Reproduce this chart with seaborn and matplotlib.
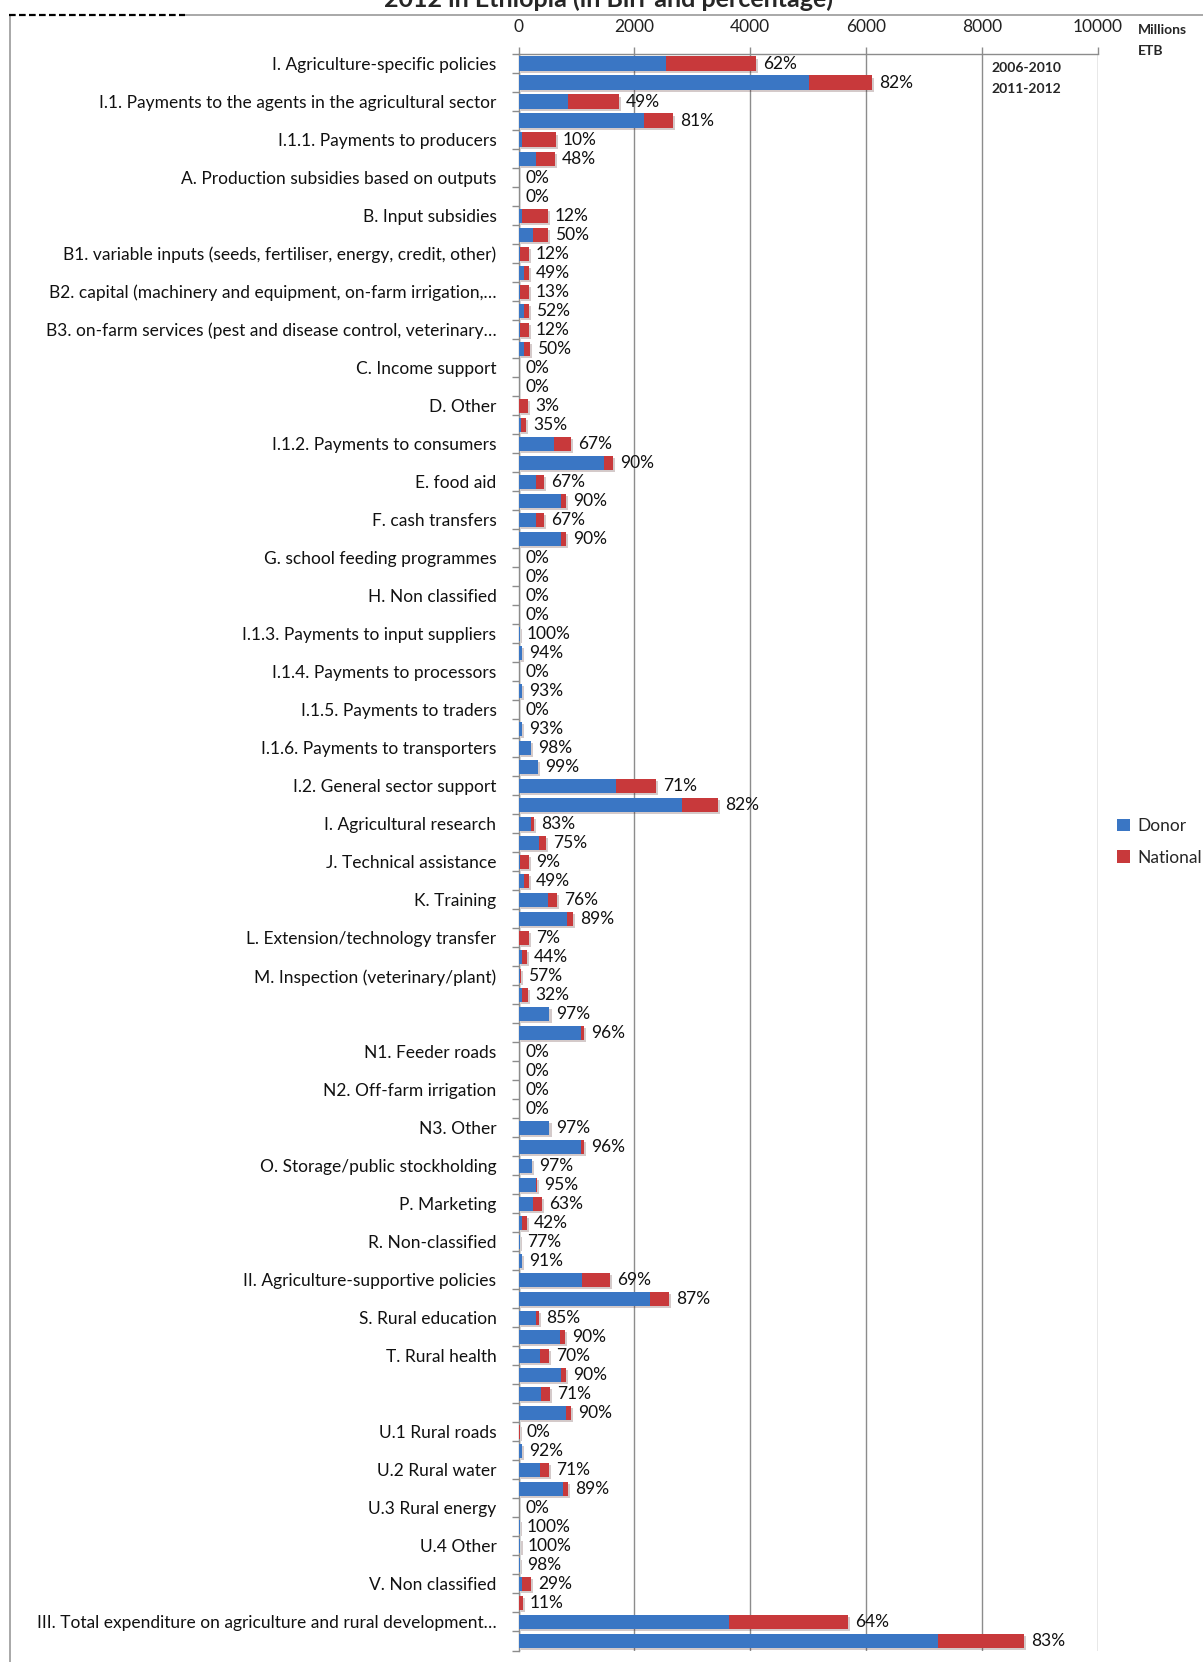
import numpy as np
import pandas as pd
import matplotlib
matplotlib.use("Agg")
import matplotlib.pyplot as plt
import matplotlib.patheffects as pe
from matplotlib.lines import Line2D
from matplotlib.patches import Patch
import seaborn as sns

# Expenditure items (one label per pair of bars)
items = [
    "I. Agriculture-specific policies",
    "I.1. Payments to the agents in the agricultural sector",
    "I.1.1. Payments to producers",
    "A. Production subsidies based on outputs",
    "B. Input subsidies",
    "B1. variable inputs (seeds, fertiliser, energy, credit, other)",
    "B2. capital (machinery and equipment, on-farm irrigation,…",
    "B3. on-farm services (pest and disease control, veterinary…",
    "C. Income support",
    "D. Other",
    "I.1.2. Payments to consumers",
    "E. food aid",
    "F. cash transfers",
    "G. school feeding programmes",
    "H. Non classified",
    "I.1.3. Payments to input suppliers",
    "I.1.4. Payments to processors",
    "I.1.5. Payments to traders",
    "I.1.6. Payments to transporters",
    "I.2. General sector support",
    "I. Agricultural research",
    "J. Technical assistance",
    "K. Training",
    "L. Extension/technology transfer",
    "M. Inspection (veterinary/plant)",
    "",
    "N1. Feeder roads",
    "N2. Off-farm irrigation",
    "N3. Other",
    "O. Storage/public stockholding",
    "P. Marketing",
    "R. Non-classified",
    "II. Agriculture-supportive policies",
    "S. Rural education",
    "T. Rural health",
    "",
    "U.1 Rural roads",
    "U.2 Rural water",
    "U.3 Rural energy",
    "U.4 Other",
    "V. Non classified",
    "III. Total expenditure on agriculture and rural development…",
]

# Total spending, millions ETB
total_2006_2010 = [4100, 1736, 640, 0, 507, 179, 179, 179, 0, 161, 905, 438, 438, 0, 0,
                   23, 0, 0, 213, 2376, 265, 179, 663, 179, 40, 531, 0, 0, 531, 231,
                   404, 23, 1580, 352, 525, 542, 23, 525, 0, 30, 209, 5690]
total_2011_2012 = [6107, 2670, 629, 0, 507, 179, 179, 196, 0, 127, 1632, 819, 819, 0, 0,
                   58, 58, 58, 329, 3449, 473, 179, 940, 144, 161, 1130, 0, 0, 1130, 317,
                   144, 58, 2601, 802, 819, 905, 58, 854, 23, 23, 76, 8730]

# Donor share of spending, percent
donor_pct_2006_2010 = [62, 49, 10, 0, 12, 12, 13, 12, 0, 3, 67, 67, 67, 0, 0,
                       100, 0, 0, 98, 71, 83, 9, 76, 7, 57, 97, 0, 0, 97, 97,
                       63, 77, 69, 85, 70, 71, 0, 71, 0, 100, 29, 64]
donor_pct_2011_2012 = [82, 81, 48, 0, 50, 49, 52, 50, 0, 35, 90, 90, 90, 0, 0,
                       94, 93, 93, 99, 82, 75, 49, 89, 44, 32, 96, 0, 0, 96, 95,
                       42, 91, 87, 90, 90, 90, 92, 89, 100, 98, 11, 83]

periods = ["2006-2010", "2011-2012"]
tick_values = [0, 2000, 4000, 6000, 8000, 10000]

# Interleave the two periods: one bar row per item and period
rows, labels, totals, pcts = [], [], [], []
for k, name in enumerate(items):
    for j, (tot, pct) in enumerate([(total_2006_2010[k], donor_pct_2006_2010[k]),
                                    (total_2011_2012[k], donor_pct_2011_2012[k])]):
        rows.append(f"r{2 * k + j:02d}")
        labels.append(name if j == 0 else "")
        totals.append(tot)
        pcts.append(pct)

df = pd.DataFrame({"row": rows, "total": totals, "pct": pcts})
df["donor"] = df["total"] * df["pct"] / 100.0
df["national"] = df["total"] - df["donor"]

sns.set_theme(style="white")
plt.rcParams["font.family"] = ["Lato", "DejaVu Sans"]

BLUE = "#3a76c4"
RED = "#c8393b"
GRID = "#8c8c8c"

W, H = 1203, 1662
fig = plt.figure(figsize=(W / 100, H / 100), dpi=100)
ax = fig.add_axes([518.7 / W, 1 - 1650.5 / H, 578.8 / W, (1650.5 - 54.0) / H])

shadow = [pe.SimplePatchShadow(offset=(1.5, -1.5), alpha=0.22), pe.Normal()]

sns.barplot(data=df, y="row", x="total", order=rows, orient="h", color=RED,
            width=0.74, saturation=1, ax=ax, zorder=3)
sns.barplot(data=df, y="row", x="donor", order=rows, orient="h", color=BLUE,
            width=0.74, saturation=1, ax=ax, zorder=4)
for i, patch in enumerate(ax.patches):
    patch.set_linewidth(0)
    if i < len(rows):
        patch.set_path_effects(shadow)

ax.set_xlim(0, 10000)
ax.set_ylim(len(rows) - 0.5, -0.5)
ax.set_xlabel("")
ax.set_ylabel("")

# value axis on top with vertical gridlines
ax.xaxis.tick_top()
ax.set_xticks(tick_values)
ax.set_xticklabels([str(v) for v in tick_values], fontsize=12.5, color="#222222")
ax.tick_params(axis="x", which="major", direction="out", length=5, color=GRID,
               width=1, pad=9)
ax.grid(axis="x", color=GRID, linewidth=1, zorder=0)
ax.grid(axis="y", visible=False)

# category axis: labels at bar centres, tick marks between bars
ax.set_yticks(range(len(rows)))
ax.set_yticklabels(labels, fontsize=12.5, color="#111111")
ax.set_yticks(np.arange(-0.5, len(rows), 1.0), minor=True)
ax.tick_params(axis="y", which="major", length=0, pad=16)
ax.tick_params(axis="y", which="minor", direction="out", length=5, color=GRID,
               width=1, left=True)

for side in ["right", "bottom"]:
    ax.spines[side].set_visible(False)
for side in ["left", "top"]:
    ax.spines[side].set_visible(True)
    ax.spines[side].set_color(GRID)
    ax.spines[side].set_linewidth(1)

# donor share labels at the end of each bar
for i, (tot, pct) in enumerate(zip(df["total"], df["pct"])):
    ax.annotate(f"{pct}%", xy=(tot, i), xytext=(5, 0), textcoords="offset points",
                va="center", ha="left", fontsize=12.5, color="#111111", zorder=6)

# period key inside the plot
ax.text(991 / W, 1 - 68 / H, periods[0], transform=fig.transFigure,
        fontsize=10, fontweight="bold", va="center", ha="left")
ax.text(991 / W, 1 - 89 / H, periods[1], transform=fig.transFigure,
        fontsize=10, fontweight="bold", va="center", ha="left")

# unit note
fig.text(1138 / W, 1 - 30 / H, "Millions", fontsize=10, fontweight="bold",
         va="center", ha="left")
fig.text(1138 / W, 1 - 51 / H, "ETB", fontsize=10, fontweight="bold",
         va="center", ha="left")

# title (runs off the top of the frame)
fig.text(609 / W, 1 - 7 / H, "2012 in Ethiopia (in Birr and percentage)",
         fontsize=18, fontweight="bold", ha="center", va="baseline")

# legend
handles = [Patch(facecolor=BLUE, edgecolor="none", label="Donor"),
           Patch(facecolor=RED, edgecolor="none", label="National")]
fig.legend(handles=handles, loc="center left",
           bbox_to_anchor=(1110 / W, 1 - 842 / H), frameon=False,
           fontsize=12.5, handlelength=0.75, handleheight=0.75,
           handletextpad=0.4, labelspacing=0.9, borderaxespad=0)

# chart frame
fig.add_artist(Line2D([10 / W, 10 / W], [1 - 15 / H, 0], transform=fig.transFigure,
                      color="#9a9a9a", linewidth=1.2))
fig.add_artist(Line2D([185 / W, 1], [1 - 15 / H, 1 - 15 / H], transform=fig.transFigure,
                      color="#9a9a9a", linewidth=1.2))
fig.add_artist(Line2D([9 / W, 185 / W], [1 - 15 / H, 1 - 15 / H], transform=fig.transFigure,
                      color="black", linewidth=1.6, linestyle=(0, (3, 1.5))))

fig.savefig("out.png", dpi=100)
